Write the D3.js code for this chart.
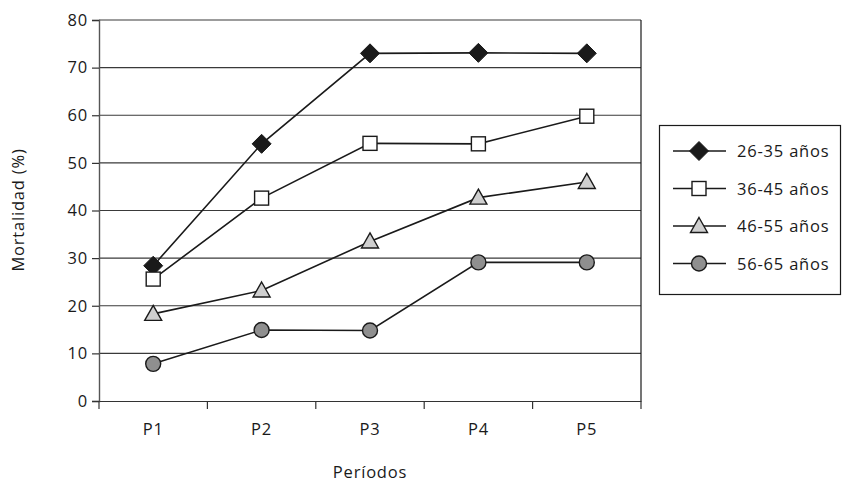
<!DOCTYPE html>
<html><head><meta charset="utf-8">
<script src="https://cdn.jsdelivr.net/npm/d3@7"></script>
<style>body{margin:0;background:#fff}svg{display:block}text{font-family:"Open Sans",sans-serif;fill:#1a1a1a;letter-spacing:0.8px}</style>
</head><body><svg id="c" width="843" height="485"></svg>
<script>
const categories = ["P1","P2","P3","P4","P5"];
const seriesNames = ["26-35 años","36-45 años","46-55 años","56-65 años"];
const s2635 = [28.4, 54.0, 73.0, 73.1, 73.0];
const s3645 = [25.6, 42.6, 54.1, 54.0, 59.8];
const s4655 = [18.3, 23.2, 33.5, 42.7, 46.0];
const s5665 = [7.8, 14.9, 14.8, 29.1, 29.1];
const yTicks = [0,10,20,30,40,50,60,70,80];
const yTitle = "Mortalidad (%)";
const xTitle = "Períodos";

const seriesValues = [s2635, s3645, s4655, s5665];
const markerTypes = ["diamond","square","triangle","circle"];
const fills = ["#1a1a1a","#ffffff","#cfcfcf","#8f8f8f"];
const FS = "16.5px";

const svg = d3.select("#c");
const L = 99, R = 641, T = 20, B = 401;
const x = d3.scaleBand().domain(categories).range([L, R]);
const y = d3.scaleLinear().domain([0, 80]).range([B, T]);

// gridlines
svg.append("g").selectAll("line").data(yTicks.filter(d => d > 0)).join("line")
  .attr("x1", L).attr("x2", R).attr("y1", d => y(d)).attr("y2", d => y(d))
  .attr("stroke", "#3a3a3a").attr("stroke-width", 1.2);
// right border
svg.append("line").attr("x1", R).attr("x2", R).attr("y1", T).attr("y2", B)
  .attr("stroke", "#1a1a1a").attr("stroke-width", 1.2);

// y axis
const ya = svg.append("g").attr("transform", `translate(${L},0)`)
  .call(d3.axisLeft(y).tickValues(yTicks).tickSize(7).tickPadding(4));
ya.select(".domain").attr("stroke", "#555").attr("stroke-width", 1.4);
ya.selectAll(".tick line").attr("stroke", "#333").attr("stroke-width", 1.2);
ya.selectAll("text").style("font-size", FS).style("font-family", '"Open Sans",sans-serif').attr("fill", "#1a1a1a");

// x axis
const xa = svg.append("g").attr("transform", `translate(0,${B})`)
  .call(d3.axisBottom(x).tickSize(0).tickPadding(22));
xa.select(".domain").attr("stroke", "#333").attr("stroke-width", 1.2);
xa.selectAll("text").style("font-size", FS).style("font-family", '"Open Sans",sans-serif').attr("fill", "#1a1a1a");
const edges = d3.range(categories.length + 1).map(i => L + i * x.step());
svg.append("g").selectAll("line").data(edges).join("line")
  .attr("x1", d => d).attr("x2", d => d).attr("y1", B).attr("y2", B + 8)
  .attr("stroke", "#333").attr("stroke-width", 1.2);

// titles
svg.append("text").attr("x", 370).attr("y", 478).attr("text-anchor", "middle")
  .style("font-size", FS).text(xTitle);
svg.append("text").attr("transform", `translate(24,${210}) rotate(-90)`)
  .attr("text-anchor", "middle").style("font-size", FS).text(yTitle);

function drawMarker(g, type, fill, cx, cy) {
  if (type === "diamond") {
    g.append("path").attr("d", `M${cx},${cy-9.5}L${cx+9.5},${cy}L${cx},${cy+9.5}L${cx-9.5},${cy}Z`)
      .attr("fill", fill).attr("stroke", "#1a1a1a").attr("stroke-width", 1);
  } else if (type === "square") {
    g.append("rect").attr("x", cx - 7).attr("y", cy - 7).attr("width", 14).attr("height", 14)
      .attr("fill", fill).attr("stroke", "#1a1a1a").attr("stroke-width", 1.4);
  } else if (type === "triangle") {
    g.append("path").attr("d", `M${cx},${cy-8.5}L${cx+8.5},${cy+6.5}L${cx-8.5},${cy+6.5}Z`)
      .attr("fill", fill).attr("stroke", "#1a1a1a").attr("stroke-width", 1.4);
  } else {
    g.append("circle").attr("cx", cx).attr("cy", cy).attr("r", 7.5)
      .attr("fill", fill).attr("stroke", "#1a1a1a").attr("stroke-width", 1.4);
  }
}

const line = d3.line().x((d, i) => x(categories[i]) + x.bandwidth() / 2).y(d => y(d));
seriesValues.forEach((vals, si) => {
  const g = svg.append("g");
  g.append("path").attr("d", line(vals)).attr("fill", "none")
    .attr("stroke", "#1a1a1a").attr("stroke-width", 1.6);
  vals.forEach((v, i) => drawMarker(g, markerTypes[si], fills[si], x(categories[i]) + x.bandwidth() / 2, y(v)));
});

// legend
const lg = svg.append("g");
lg.append("rect").attr("x", 659.5).attr("y", 125.5).attr("width", 181).attr("height", 169)
  .attr("fill", "#fff").attr("stroke", "#1a1a1a").attr("stroke-width", 1.2);
seriesNames.forEach((name, i) => {
  const cy = 151 + i * 37.5;
  lg.append("line").attr("x1", 673).attr("x2", 726).attr("y1", cy).attr("y2", cy)
    .attr("stroke", "#1a1a1a").attr("stroke-width", 1.6);
  drawMarker(lg, markerTypes[i], fills[i], 699, cy);
  lg.append("text").attr("x", 737).attr("y", cy + 6).style("font-size", FS).text(name);
});
</script></body></html>
